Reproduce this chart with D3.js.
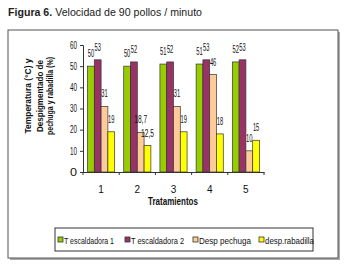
<!DOCTYPE html>
<html><head><meta charset="utf-8">
<script src="https://cdn.jsdelivr.net/npm/d3@7"></script>
<style>
body{margin:0;background:#fff;}
text{font-family:"Liberation Sans Narrow","Arial Narrow","Liberation Sans",sans-serif;}
</style></head>
<body><svg id="c" width="347" height="270"></svg>
<script>
const categories = ["1","2","3","4","5"];
const seriesNames = ["T escaldadora 1","T escaldadora 2","Desp pechuga","desp.rabadilla"];
const tEscaldadora1 = [50,50,51,51,52];
const tEscaldadora2 = [53,52,52,53,53];
const despPechuga = [31,18.7,31,46,10];
const despRabadilla = [19,12.5,19,18,15];
const yTicks = [0,10,20,30,40,50,60];
const colors = ["#99cc00","#993366","#ffcc99","#ffff00"];

const seriesValues = [tEscaldadora1,tEscaldadora2,despPechuga,despRabadilla];
const svg = d3.select("#c");
const fmt = v => String(v).replace(".", ",");

// title
const title = svg.append("text").attr("x",8).attr("y",16).attr("font-size",11).attr("fill","#222")
  .attr("textLength",194).attr("lengthAdjust","spacingAndGlyphs");
title.append("tspan").attr("font-weight","bold").text("Figura 6.");
title.append("tspan").text(" Velocidad de 90 pollos / minuto");

// outer frame with shadow
svg.append("rect").attr("x",10).attr("y",32).attr("width",330).attr("height",228).attr("fill","#aaa");
svg.append("rect").attr("x",8).attr("y",30).attr("width",330).attr("height",228).attr("fill","#fff").attr("stroke","#555").attr("stroke-width",1);

const x = d3.scaleBand().domain(categories).range([83,264]).paddingInner(0.25).paddingOuter(0.125);
const xs = d3.scaleBand().domain(d3.range(seriesNames.length)).range([0,x.bandwidth()]);
const y = d3.scaleLinear().domain([0,60]).range([172,45]);

// y axis
const ya = svg.append("g").attr("transform","translate(83,0)")
  .call(d3.axisLeft(y).tickValues(yTicks).tickSize(3).tickPadding(3));
ya.selectAll("text").attr("font-size",10).attr("fill","#111").attr("font-family","Liberation Sans Narrow, Arial Narrow, sans-serif")
  .attr("textLength",7).attr("lengthAdjust","spacingAndGlyphs");
ya.selectAll("line,path").attr("stroke","#333");

// bars
categories.forEach((c,i)=>{
  const g = svg.append("g").attr("transform",`translate(${x(c)},0)`);
  seriesValues.forEach((vals,s)=>{
    g.append("rect").attr("x",xs(s)).attr("y",y(vals[i])).attr("width",xs.bandwidth()).attr("height",y(0)-y(vals[i]))
      .attr("fill",colors[s]).attr("stroke","#333").attr("stroke-width",0.7);
  });
  seriesValues.forEach((vals,s)=>{
    const t = fmt(vals[i]);
    g.append("text").attr("x",xs(s)+xs.bandwidth()/2).attr("y",y(vals[i])-9).attr("text-anchor","middle")
      .attr("font-size",10).attr("fill","#111")
      .attr("textLength",t.length*3.2).attr("lengthAdjust","spacingAndGlyphs").text(t);
  });
});

// x axis
const xa = svg.append("g").attr("transform","translate(0,172)")
  .call(d3.axisBottom(x).tickSize(0).tickPadding(14));
xa.select("path").attr("stroke","#333");
xa.selectAll("text").attr("font-size",10).attr("fill","#111").attr("font-family","Liberation Sans Narrow, Arial Narrow, sans-serif");
const bounds = d3.range(categories.length+1).map(i=>x.range()[0]+i*x.step());
svg.append("g").selectAll("line").data(bounds).join("line")
  .attr("x1",d=>d).attr("x2",d=>d).attr("y1",172).attr("y2",175).attr("stroke","#333");

svg.append("text").attr("x",173).attr("y",205).attr("text-anchor","middle").attr("font-size",10).attr("font-weight","bold").attr("fill","#111")
  .attr("textLength",50).attr("lengthAdjust","spacingAndGlyphs").text("Tratamientos");

// y title
const yLines = ["Temperatura (°C) y","Despigmentado de","pechuga y rabadilla (%)"];
const yLens = [75,72,78];
const yBase = [31,42.5,53];
yLines.forEach((t,i)=>{
  svg.append("text").attr("transform",`translate(${yBase[i]},96) rotate(-90)`).attr("text-anchor","middle")
    .attr("font-size",9.5).attr("font-weight","bold").attr("fill","#111")
    .attr("textLength",yLens[i]).attr("lengthAdjust","spacingAndGlyphs").text(t);
});

// legend
svg.append("rect").attr("x",55).attr("y",228).attr("width",258).attr("height",23).attr("fill","#fff").attr("stroke","#333").attr("stroke-width",1);
const legX = [58,125,193,259];
const legLen = [50,53,52,49];
seriesNames.forEach((n,s)=>{
  svg.append("rect").attr("x",legX[s]).attr("y",237).attr("width",5).attr("height",5).attr("fill",colors[s]).attr("stroke","#333").attr("stroke-width",0.8);
  svg.append("text").attr("x",legX[s]+6).attr("y",243.5).attr("font-size",9.5).attr("fill","#111")
    .attr("textLength",legLen[s]).attr("lengthAdjust","spacingAndGlyphs").text(n);
});
</script></body></html>
